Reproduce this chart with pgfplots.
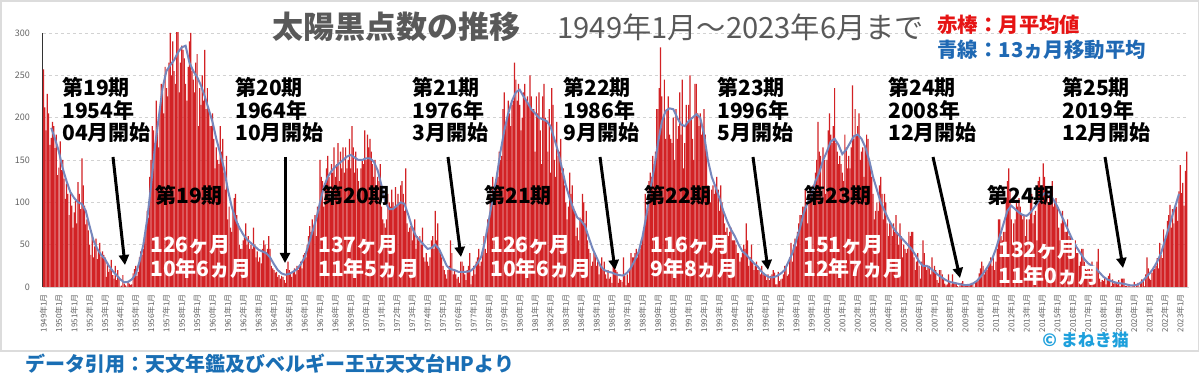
\documentclass[border=0pt]{standalone}
\usepackage{pgfplots}
\pgfplotsset{compat=1.18}
\usepackage{pgfplotstable}
\usepackage{fontspec}
\setmainfont{Noto Sans CJK JP}
\usetikzlibrary{arrows.meta}
\definecolor{barred}{RGB}{210,34,37}
\definecolor{lineblue}{RGB}{118,135,188}
\definecolor{titlegray}{RGB}{89,89,89}
\definecolor{legred}{RGB}{230,20,20}
\definecolor{legblue}{RGB}{31,105,180}
\definecolor{srcblue}{RGB}{25,110,180}
\definecolor{cpcyan}{RGB}{30,160,220}
\definecolor{gridgray}{RGB}{210,210,210}
\definecolor{tickgray}{RGB}{100,100,100}
\definecolor{framegray}{RGB}{220,220,220}

\pgfplotstableread{
yr m1 m2 m3 m4 m5 m6 m7 m8 m9 m10 m11 m12
1949 257 212 185 228 205 168 176 195 190 164 180 132
1950 141 172 138 150 128 104 122 110 85 112 96 70
1951 88 102 75 124 110 92 152 120 96 74 80 67
1952 50 38 62 35 48 57 33 44 52 36 42 38
1953 35 12 29 18 21 32 14 10 25 8 20 12
1954 0.3 1.5 14 4 2 0.4 6 4 2.5 3 16 21
1955 25 13 18 35 42 38 45 62 68 90 82 130
1956 150 190 185 170 220 195 165 210 240 230 205 260
1957 235 225 265 300 250 290 255 240 320 355 230 265
1958 285 280 270 240 220 260 290 300 255 245 230 265
1959 275 190 235 215 250 220 280 210 235 210 190 190
1960 205 175 140 165 150 145 190 160 175 135 115 155
1961 80 95 70 65 90 105 110 85 75 50 45 45
1962 55 60 75 50 60 45 50 45 70 50 35 42
1963 30 35 28 45 55 50 40 45 60 45 25 22
1964 20 17 18 12 14 10 13 12 8 5 21 30
1965 20 17 12 18 22 15 25 20 25 30 22 38
1966 40 35 50 60 72 65 80 70 85 60 95 90
1967 150 130 125 95 120 140 155 130 105 145 135 165
1968 130 145 170 125 160 140 165 135 165 140 150 175
1969 140 190 165 135 160 140 125 115 140 150 145 185
1970 150 180 165 175 160 145 130 150 120 130 125 145
1971 95 80 75 70 80 110 100 95 115 100 95 118
1972 95 110 100 120 125 110 90 140 75 65 70 72
1973 55 70 80 45 60 55 60 50 70 35 30 40
1974 30 25 35 55 60 45 90 55 75 45 40 35
1975 25 20 15 10 20 25 55 40 15 20 15 10
1976 12 5 30 30 25 15 8 20 25 40 3 13
1977 25 15 30 35 45 25 30 40 60 45 40 80
1978 80 110 95 130 100 120 135 130 160 150 155 210
1979 230 190 200 220 205 190 215 220 265 245 220 240
1980 215 185 200 230 240 220 225 215 250 225 210 210
1981 160 225 205 230 185 145 225 240 200 195 160 210
1982 135 235 215 150 130 195 155 160 175 135 140 120
1983 100 80 95 135 110 120 95 90 60 70 55 82
1984 80 110 100 75 90 55 45 40 25 30 40 36
1985 25 30 15 25 35 20 30 15 10 20 10 12
1986 5 35 25 20 18 5 10 8 6 35 13 2
1987 15 5 20 40 35 35 40 45 35 40 45 50
1988 60 70 110 85 90 125 135 130 155 145 160 210
1989 210 235 283 225 200 245 175 210 225 180 175 170
1990 200 150 210 175 190 230 180 245 140 170 215 195
1991 215 250 200 175 150 240 240 205 190 205 180 190
1992 210 180 160 120 115 100 115 120 110 120 130 115
1993 90 120 100 90 75 65 70 60 65 70 55 55
1994 55 50 40 40 30 35 40 50 45 75 55 25
1995 35 50 30 20 25 30 20 20 15 25 15 15
1996 15 8 15 8 13 15 20 17 3 3 18 7
1997 9 10 15 25 25 13 15 35 52 30 50 57
1998 48 65 75 85 85 95 95 115 95 75 110 115
1999 110 120 110 135 150 195 160 155 105 165 150 110
2000 150 185 205 180 170 190 235 170 160 145 155 145
2001 135 125 180 165 140 155 140 165 238 175 210 180
2002 190 205 150 160 165 130 165 180 175 150 140 130
2003 110 80 90 100 90 120 130 110 80 110 100 75
2004 60 75 75 60 75 65 85 65 50 75 60 35
2005 50 45 40 45 65 60 65 65 35 20 30 40
2006 25 10 30 55 40 25 20 25 25 15 35 20
2007 25 20 8 5 20 20 15 10 4 2 3 15
2008 5 3 15 5 4 5 1 0 2 5 7 2
2009 2 2 1 1 3 5 5 0 7 7 7 16
2010 22 30 25 15 20 20 25 30 35 25 35 20
2011 30 45 80 80 60 55 65 65 105 125 140 115
2012 80 50 75 80 100 95 105 95 85 80 85 60
2013 80 55 80 110 110 75 85 90 55 125 130 115
2014 120 146 130 115 110 100 110 105 125 95 100 105
2015 95 70 55 75 90 80 65 65 80 60 60 55
2016 55 55 55 40 40 25 30 45 45 30 25 20
2017 25 25 15 30 20 25 20 30 45 10 6 8
2018 7 11 3 9 13 16 1 9 4 5 5 3
2019 8 1 10 10 10 1 1 0.5 1 0.5 0.5 1.5
2020 6 0.2 1.5 5 0.2 6 9 8 0.6 15 35 22
2021 10 8 17 24 21 25 34 22 52 38 34 68
2022 55 60 78 85 97 70 92 75 96 95 78 113
2023 144 111 123 96 137 160 nan nan nan nan nan nan
}\monthly

\newcommand{\annf}{\fontsize{10.5}{11}\selectfont\bfseries}

\begin{document}
\begin{tikzpicture}
\path[use as bounding box] (0,0) rectangle (600pt,194.5pt);
\fill[white] (0,0) rectangle (600pt,194.5pt);
\begin{axis}[
  at={(21.45pt,51pt)}, anchor=south west,
  scale only axis, width=572.9pt, height=127pt,
  xmin=1948.96, xmax=2023.55, ymin=0, ymax=300,
  axis x line*=bottom, axis y line*=left,
  x axis line style={draw=gridgray},
  y axis line style={draw=black!80, line width=0.5pt},
  xtick={1949,1950,...,2023},
  xticklabel={\pgfmathtruncatemacro{\yr}{round(\tick)}\yr 年1月},
  xticklabel style={rotate=90, anchor=east, font=\fontsize{4}{4}\selectfont, text=tickgray},
  ytick={0,50,...,300},
  yticklabel style={font=\fontsize{4.5}{5}\selectfont, text=tickgray, xshift=-3pt},
  /pgf/number format/assume math mode=true,
  major tick length=0pt,
  ymajorgrids,
  grid style={dash pattern=on 1.5pt off 1.5pt, draw=gridgray, line width=0.4pt},
  clip=true,
]
\pgfplotsinvokeforeach{1,...,12}{
  \addplot[ybar, bar shift=0pt, bar width=0.08, fill=barred, draw=none]
    table[x expr=\thisrow{yr}+(#1-1)/12, y=m#1] {\monthly};
}
\addplot[color=lineblue, line width=1pt] coordinates {
(1949.5,188)(1949.75,175)(1950,160)(1950.25,140)(1950.5,125)(1950.75,112)(1951,105)(1951.25,100)(1951.5,98)(1951.75,90)
(1952,72)(1952.25,55)(1952.5,45)(1952.75,38)(1953,33)(1953.25,25)(1953.5,19)(1953.75,14)(1954,9)(1954.25,5.5)(1954.5,6)(1954.75,9)
(1955,15)(1955.25,30)(1955.5,50)(1955.75,80)(1956,120)(1956.25,165)(1956.5,200)(1956.75,235)(1957,255)(1957.25,262)(1957.5,268)(1957.75,277)
(1958,283)(1958.25,285)(1958.5,265)(1958.75,255)(1959,248)(1959.25,238)(1959.5,225)(1959.75,210)(1960,195)(1960.25,175)(1960.5,158)(1960.75,140)
(1961,115)(1961.25,95)(1961.5,80)(1961.75,70)(1962,62)(1962.25,56)(1962.5,52)(1962.75,48)(1963,44)(1963.25,42)(1963.5,40)(1963.75,35)
(1964,27)(1964.25,20)(1964.5,16)(1964.75,14.5)(1965,15.5)(1965.25,18)(1965.5,21)(1965.75,27)(1966,35)(1966.25,50)(1966.5,65)(1966.75,80)
(1967,100)(1967.25,118)(1967.5,130)(1967.75,137)(1968,142)(1968.25,146)(1968.5,150)(1968.75,154)(1969,156)(1969.25,153)(1969.5,150)(1969.75,150)
(1970,152)(1970.25,152)(1970.5,148)(1970.75,138)(1971,120)(1971.25,100)(1971.5,92)(1971.75,92)(1972,96)(1972.25,100)(1972.5,98)(1972.75,85)
(1973,70)(1973.25,60)(1973.5,55)(1973.75,50)(1974,45)(1974.25,46)(1974.5,50)(1974.75,45)(1975,35)(1975.25,25)(1975.5,21)(1975.75,20)
(1976,18)(1976.25,17.8)(1976.5,18)(1976.75,18.5)(1977,22)(1977.25,28)(1977.5,36)(1977.75,55)(1978,80)(1978.25,105)(1978.5,130)(1978.75,160)
(1979,185)(1979.25,205)(1979.5,220)(1979.75,230)(1980,233)(1980.25,225)(1980.5,218)(1980.75,210)(1981,205)(1981.25,200)(1981.5,198)(1981.75,196)
(1982,190)(1982.25,175)(1982.5,160)(1982.75,140)(1983,120)(1983.25,105)(1983.5,92)(1983.75,82)(1984,78)(1984.25,72)(1984.5,58)(1984.75,45)
(1985,35)(1985.25,25)(1985.5,20)(1985.75,18)(1986,17)(1986.25,15)(1986.5,14)(1986.75,13.5)(1987,17)(1987.25,23)(1987.5,32)(1987.75,42)
(1988,60)(1988.25,85)(1988.5,115)(1988.75,140)(1989,170)(1989.25,195)(1989.5,208)(1989.75,211)(1990,210)(1990.25,200)(1990.5,192)(1990.75,190)
(1991,196)(1991.25,200)(1991.5,204)(1991.75,200)(1992,180)(1992.25,150)(1992.5,130)(1992.75,118)(1993,105)(1993.25,90)(1993.5,78)(1993.75,68)
(1994,60)(1994.25,50)(1994.5,42)(1994.75,38)(1995,33)(1995.25,28)(1995.5,24)(1995.75,18)(1996,14)(1996.25,11.5)(1996.5,11.5)(1996.75,13)
(1997,16)(1997.25,20)(1997.5,30)(1997.75,40)(1998,55)(1998.25,70)(1998.5,88)(1998.75,100)(1999,110)(1999.25,125)(1999.5,135)(1999.75,150)
(2000,160)(2000.25,172)(2000.5,175)(2000.75,168)(2001,157)(2001.25,162)(2001.5,170)(2001.75,178)(2002,180)(2002.25,175)(2002.5,165)(2002.75,150)
(2003,130)(2003.25,115)(2003.5,100)(2003.75,90)(2004,80)(2004.25,72)(2004.5,65)(2004.75,60)(2005,55)(2005.25,50)(2005.5,45)(2005.75,38)
(2006,30)(2006.25,25)(2006.5,25)(2006.75,22)(2007,18)(2007.25,14)(2007.5,11)(2007.75,8)(2008,6)(2008.25,5)(2008.5,4)(2008.75,3)
(2009,2.2)(2009.25,2.5)(2009.5,4)(2009.75,7)(2010,12)(2010.25,18)(2010.5,25)(2010.75,33)(2011,45)(2011.25,60)(2011.5,75)(2011.75,90)
(2012,96)(2012.25,92)(2012.5,88)(2012.75,85)(2013,84)(2013.25,88)(2013.5,94)(2013.75,100)(2014,108)(2014.25,112)(2014.5,110)(2014.75,103)
(2015,95)(2015.25,85)(2015.5,75)(2015.75,65)(2016,55)(2016.25,47)(2016.5,40)(2016.75,33)(2017,28)(2017.25,25)(2017.5,22)(2017.75,17)
(2018,12)(2018.25,9)(2018.5,7)(2018.75,5.5)(2019,4.5)(2019.25,4)(2019.5,3)(2019.75,2)(2020,1.8)(2020.25,3)(2020.5,6)(2020.75,11)
(2021,16)(2021.25,22)(2021.5,30)(2021.75,40)(2022,55)(2022.25,70)(2022.5,85)(2022.75,100)(2022.92,110)
};
\end{axis}
\begin{scope}[shift={(0,194.5pt)}, x=0.5pt, y=-0.5pt]
\draw[framegray, line width=0.75pt] (1,1) rectangle (1198.5,351);
% title
\node[anchor=west, inner sep=0, font=\fontsize{15.5}{16}\selectfont\bfseries, text=titlegray] at (272,27) {太陽黒点数の推移};
\node[anchor=west, inner sep=0, font=\fontsize{14.6}{16}\selectfont, text=titlegray] at (557,27) {1949年1月～2023年6月まで};
% legend
\node[anchor=west, inner sep=0, font=\fontsize{10.2}{11}\selectfont\bfseries, text=legred] at (937,25) {赤棒：月平均値};
\node[anchor=west, inner sep=0, font=\fontsize{10.2}{11}\selectfont\bfseries, text=legblue] at (937,50) {青線：13ヵ月移動平均};
% start annotations
\foreach \xx/\a/\b/\c in {62/第19期/1954年/04月開始, 235/第20期/1964年/10月開始, 412/第21期/1976年/3月開始, 563/第22期/1986年/9月開始, 717/第23期/1996年/5月開始, 888/第24期/2008年/12月開始, 1062/第25期/2019年/12月開始}{
  \node[anchor=west, inner sep=0, font=\annf] at (\xx,87) {\a};
  \node[anchor=west, inner sep=0, font=\annf] at (\xx,110) {\b};
  \node[anchor=west, inner sep=0, font=\annf] at (\xx,133) {\c};
}
\foreach \xa/\ya/\xb/\yb in {113/157/125/265, 285/157/285/263, 448/157/461/257, 600/157/615/270, 753/157/768/270, 933/157/960/278, 1105/157/1123/268}{
  \draw[line width=1.5pt, -{Triangle[length=5pt,width=5pt]}] (\xa,\ya) -- (\xb,\yb);
}
% cycle labels
\foreach \xx/\t in {189/第19期, 356/第20期, 518/第21期, 678/第22期, 838/第23期, 1021/第24期}{
  \node[inner sep=0, font=\annf] at (\xx,195) {\t};
}
% durations
\foreach \xx/\ya/\yb/\a/\b in {150/245/268/126ヶ月/10年6ヵ月, 318/245/268/137ヶ月/11年5ヵ月, 490/245/268/126ヶ月/10年6ヵ月, 650/245/268/116ヶ月/9年8ヵ月, 803/245/268/151ヶ月/12年7ヵ月, 998/250/275/132ヶ月/11年0ヵ月}{
  \node[anchor=west, inner sep=0, font=\annf, text=white] at (\xx,\ya) {\a};
  \node[anchor=west, inner sep=0, font=\annf, text=white] at (\xx,\yb) {\b};
}
% source and copyright
\node[anchor=west, inner sep=0, font=\fontsize{10}{11}\selectfont\bfseries, text=srcblue] at (25,364) {データ引用：天文年鑑及びベルギー王立天文台HPより};
\node[anchor=west, inner sep=0, font=\fontsize{8.5}{9}\selectfont\bfseries, text=cpcyan] at (1042,340) {© まねき猫};
\end{scope}
\end{tikzpicture}
\end{document}
